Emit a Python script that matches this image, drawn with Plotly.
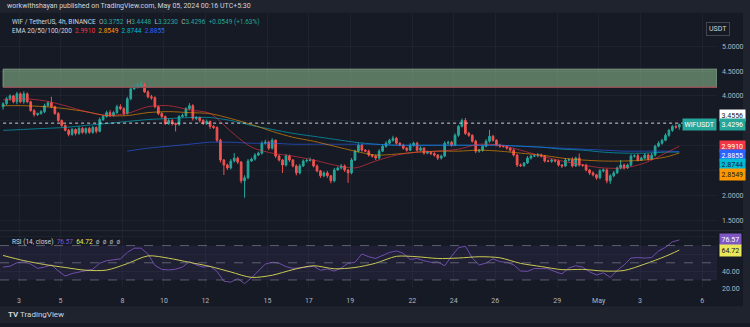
import plotly.graph_objects as go
import pandas as pd

# ---------------- data ----------------
dates = pd.date_range(end="2024-05-04 21:30", periods=197, freq="4h")

closes = [
    3.845, 3.944, 4.003, 3.884, 4.043, 3.884, 4.043, 3.884, 3.706, 3.627,
    3.646, 3.686, 3.805, 3.864, 3.785, 3.646, 3.508, 3.409, 3.310, 3.230,
    3.329, 3.250, 3.349, 3.270, 3.349, 3.270, 3.369, 3.290, 3.527, 3.587,
    3.666, 3.607, 3.666, 3.785, 3.746, 3.646, 3.944, 4.142, 4.182, 4.201,
    4.221, 4.082, 3.983, 3.964, 3.785, 3.646, 3.587, 3.448, 3.508, 3.448,
    3.428, 3.587, 3.607, 3.746, 3.805, 3.547, 3.567, 3.508, 3.448, 3.488,
    3.389, 3.369, 3.111, 2.715, 2.615, 2.556, 2.695, 2.754, 2.675, 2.298,
    2.358, 2.695, 2.734, 2.814, 2.853, 3.052, 3.072, 2.953, 3.111, 2.794,
    2.715, 2.615, 2.794, 2.715, 2.596, 2.457, 2.596, 2.695, 2.705, 2.715,
    2.596, 2.497, 2.398, 2.457, 2.398, 2.298, 2.516, 2.556, 2.596, 2.516,
    2.457, 2.715, 2.893, 3.012, 2.913, 2.893, 2.814, 2.794, 2.754, 2.893,
    2.992, 3.052, 3.111, 3.151, 3.052, 3.012, 2.953, 2.913, 3.012, 3.052,
    2.913, 2.953, 2.853, 2.873, 2.843, 2.814, 2.754, 2.794, 3.052, 3.070,
    3.012, 3.211, 3.389, 3.508, 3.250, 3.211, 3.092, 2.893, 2.913, 2.992,
    3.092, 3.191, 3.111, 3.012, 2.992, 2.985, 2.953, 2.913, 2.814, 2.615,
    2.605, 2.655, 2.754, 2.794, 2.800, 2.814, 2.794, 2.695, 2.690, 2.715,
    2.695, 2.615, 2.596, 2.715, 2.720, 2.596, 2.754, 2.615, 2.610, 2.516,
    2.457, 2.417, 2.358, 2.497, 2.516, 2.298, 2.398, 2.457, 2.556, 2.615,
    2.556, 2.615, 2.794, 2.800, 2.715, 2.754, 2.814, 2.734, 2.814, 2.992,
    3.052, 3.111, 3.211, 3.310, 3.389, 3.3747, 3.4296,
]
first_open = 3.785
last_open = 3.3752

upper_wick = [
    0.03, 0.04, 0.03, 0.02, 0.04, 0.03, 0.05, 0.03, 0.02, 0.03,
    0.02, 0.03, 0.04, 0.03, 0.12, 0.02, 0.03, 0.02, 0.02, 0.03,
    0.03, 0.02, 0.04, 0.03, 0.02, 0.03, 0.03, 0.02, 0.04, 0.03,
    0.04, 0.05, 0.03, 0.04, 0.05, 0.03, 0.04, 0.03, 0.04, 0.05,
    0.08, 0.04, 0.03, 0.04, 0.03, 0.02, 0.03, 0.02, 0.04, 0.03,
    0.02, 0.03, 0.04, 0.03, 0.05, 0.03, 0.03, 0.02, 0.03, 0.04,
    0.02, 0.03, 0.02, 0.03, 0.02, 0.03, 0.04, 0.10, 0.03, 0.02,
    0.05, 0.04, 0.03, 0.04, 0.03, 0.04, 0.05, 0.03, 0.04, 0.02,
    0.03, 0.02, 0.04, 0.03, 0.02, 0.03, 0.04, 0.03, 0.04, 0.05,
    0.02, 0.03, 0.02, 0.03, 0.04, 0.02, 0.04, 0.03, 0.04, 0.03,
    0.02, 0.04, 0.03, 0.04, 0.03, 0.02, 0.03, 0.02, 0.03, 0.04,
    0.03, 0.04, 0.03, 0.05, 0.03, 0.02, 0.03, 0.02, 0.04, 0.03,
    0.03, 0.04, 0.02, 0.03, 0.02, 0.03, 0.02, 0.03, 0.04, 0.03,
    0.03, 0.04, 0.03, 0.04, 0.05, 0.03, 0.02, 0.03, 0.02, 0.03,
    0.04, 0.13, 0.03, 0.02, 0.03, 0.02, 0.03, 0.02, 0.03, 0.02,
    0.03, 0.02, 0.04, 0.03, 0.03, 0.04, 0.03, 0.02, 0.03, 0.03,
    0.02, 0.03, 0.02, 0.04, 0.03, 0.05, 0.03, 0.09, 0.02, 0.03,
    0.02, 0.03, 0.02, 0.04, 0.03, 0.03, 0.03, 0.04, 0.03, 0.10,
    0.03, 0.03, 0.04, 0.03, 0.04, 0.03, 0.04, 0.03, 0.04, 0.03,
    0.04, 0.03, 0.04, 0.03, 0.03, 0.04, 0.0152,
]
lower_wick = [
    0.06, 0.03, 0.04, 0.03, 0.05, 0.03, 0.04, 0.03, 0.02, 0.04,
    0.03, 0.02, 0.03, 0.02, 0.03, 0.02, 0.03, 0.03, 0.02, 0.04,
    0.03, 0.04, 0.03, 0.03, 0.04, 0.03, 0.03, 0.04, 0.02, 0.03,
    0.02, 0.03, 0.02, 0.03, 0.03, 0.04, 0.02, 0.03, 0.02, 0.03,
    0.03, 0.02, 0.03, 0.04, 0.03, 0.03, 0.04, 0.03, 0.03, 0.04,
    0.14, 0.03, 0.02, 0.03, 0.03, 0.04, 0.03, 0.04, 0.03, 0.03,
    0.05, 0.03, 0.04, 0.05, 0.20, 0.04, 0.03, 0.03, 0.04, 0.05,
    0.34, 0.03, 0.02, 0.03, 0.02, 0.03, 0.03, 0.04, 0.03, 0.04,
    0.03, 0.16, 0.03, 0.04, 0.03, 0.05, 0.03, 0.02, 0.03, 0.02,
    0.03, 0.03, 0.04, 0.03, 0.04, 0.05, 0.03, 0.02, 0.03, 0.04,
    0.20, 0.03, 0.02, 0.03, 0.03, 0.02, 0.03, 0.03, 0.04, 0.03,
    0.02, 0.03, 0.02, 0.03, 0.03, 0.02, 0.03, 0.03, 0.02, 0.03,
    0.03, 0.02, 0.03, 0.02, 0.03, 0.03, 0.04, 0.03, 0.02, 0.03,
    0.03, 0.02, 0.03, 0.02, 0.03, 0.03, 0.03, 0.04, 0.03, 0.03,
    0.02, 0.03, 0.03, 0.02, 0.03, 0.02, 0.03, 0.03, 0.03, 0.04,
    0.03, 0.03, 0.02, 0.03, 0.02, 0.03, 0.03, 0.03, 0.02, 0.03,
    0.03, 0.03, 0.04, 0.02, 0.03, 0.03, 0.02, 0.03, 0.03, 0.03,
    0.04, 0.03, 0.04, 0.03, 0.03, 0.05, 0.06, 0.03, 0.02, 0.03,
    0.03, 0.02, 0.03, 0.03, 0.03, 0.02, 0.03, 0.03, 0.02, 0.03,
    0.02, 0.03, 0.02, 0.03, 0.03, 0.03, 0.0522,
]

# EMA values read once per day (every 6th candle) plus the last candle
ema20 = [3.924, 3.944, 3.904, 3.805, 3.686, 3.607, 3.650, 3.785, 3.805, 3.720,
         3.650, 3.290, 2.973, 2.853, 2.794, 2.715, 2.615, 2.556, 2.695, 2.814,
         2.873, 2.893, 2.933, 3.032, 3.012, 2.913, 2.794, 2.695, 2.615, 2.556,
         2.556, 2.655, 2.853, 2.9910]
ema50 = [3.805, 3.805, 3.785, 3.746, 3.686, 3.607, 3.607, 3.666, 3.686, 3.666,
         3.646, 3.547, 3.428, 3.290, 3.171, 3.092, 2.992, 2.893, 2.814, 2.834,
         2.873, 2.893, 2.893, 2.913, 2.893, 2.853, 2.814, 2.754, 2.715, 2.695,
         2.695, 2.715, 2.774, 2.8549]
ema100 = [3.310, 3.329, 3.349, 3.369, 3.409, 3.448, 3.488, 3.527, 3.547, 3.567,
          3.567, 3.508, 3.409, 3.329, 3.250, 3.191, 3.131, 3.072, 3.032, 3.012,
          3.012, 3.012, 3.012, 3.012, 3.012, 2.992, 2.973, 2.933, 2.913, 2.873,
          2.853, 2.853, 2.873, 2.8744]
ema200 = [None, None, None, None, None, None, 2.893, 2.953, 2.992, 3.032,
          3.072, 3.072, 3.052, 3.052, 3.032, 3.032, 3.032, 3.032, 3.032, 3.012,
          3.012, 3.012, 3.012, 3.012, 3.012, 2.992, 2.973, 2.953, 2.933, 2.913,
          2.893, 2.893, 2.893, 2.8855]

# RSI(14) read every 2nd candle
rsi = [45, 46, 50, 51, 48.5, 43.5, 45, 47.5, 40.5, 34.6,
       37.5, 39, 40.5, 42.5, 49.5, 52.3, 53.5, 54.5, 62, 67,
       67, 60, 47, 42.3, 41.7, 42.5, 45, 51.5, 47.5, 45,
       46, 40, 28.5, 27.5, 31.5, 25.8, 32.5, 40.4, 48.5, 50.5,
       49.5, 45.5, 43.5, 44.2, 45.4, 46, 41.3, 42.8, 40.3, 44,
       49.3, 50.5, 60.3, 57, 55, 58.3, 62, 63.8, 61, 53.9,
       55, 52.3, 50.6, 51, 46.5, 57.7, 67.5, 69.3, 55.5, 47.5,
       49.6, 54.6, 51.3, 50.5, 47.6, 40.5, 40, 43.3, 43, 43,
       39.7, 37, 44, 46.5, 45, 39.4, 35.8, 38.3, 33, 41,
       47.5, 55.5, 56, 55.5, 56, 63.8, 68, 74.3, 76.57]
# RSI-based MA read once per day plus the last candle
rsi_ma = [58.5, 52.5, 48, 44.5, 41.3, 41.5, 49, 58, 55.3, 50.5,
          45.7, 39.3, 33, 35.5, 42, 46.5, 43, 44.5, 49.5, 57.5,
          57, 55, 55.5, 57, 55.8, 49.3, 45.6, 42, 42.3, 40.4,
          41, 48.5, 57.5, 64.72]

zone_low, zone_high = 4.176, 4.538
h_line = 3.4556

price_ticks = [1.5, 2.0, 2.5, 3.0, 3.5, 4.0, 4.5, 5.0]
price_tick_text = ["1.5000", "2.0000", "", "", "", "4.0000", "4.5000", "5.0000"]
rsi_ticks = [20, 40, 60, 80]
rsi_tick_text = ["20.00", "40.00", "", ""]
date_ticks = ["2024-04-03", "2024-04-05", "2024-04-08", "2024-04-10", "2024-04-12",
              "2024-04-15", "2024-04-17", "2024-04-19", "2024-04-22", "2024-04-24",
              "2024-04-26", "2024-04-29", "2024-05-01", "2024-05-03", "2024-05-06"]
date_labels = ["3", "5", "8", "10", "12", "15", "17", "19", "22", "24", "26", "29",
               "May", "3", "6"]

# ---------------- derived ----------------
opens = [first_open] + closes[:-2] + [last_open]
highs = [max(o, c) + u for o, c, u in zip(opens, closes, upper_wick)]
lows = [min(o, c) - w for o, c, w in zip(opens, closes, lower_wick)]
rsi_dates = list(dates[::2])
daily_dates = list(dates[::6]) + [dates[-1]]

BG = "#161a25"
PANEL = "#1f232e"
TXT = "#b2b5be"
UP, DOWN = "#26a69a", "#ef5350"
C20, C50, C100, C200 = "#f23645", "#ff9800", "#00bcd4", "#2962ff"
RSI_C, MA_C = "#7e57c2", "#e8e85a"
FONT = "Roboto"
W, H = 750, 327
XDOM = 717 / W

def py(px):  # paper y from pixel row
    return 1 - px / H

fig = go.Figure()

fig.add_trace(go.Candlestick(
    x=dates, open=opens, high=highs, low=lows, close=closes,
    increasing=dict(line=dict(color=UP, width=1), fillcolor=UP),
    decreasing=dict(line=dict(color=DOWN, width=1), fillcolor=DOWN),
    whiskerwidth=0, xaxis="x", yaxis="y", showlegend=False, hoverinfo="skip"))

for vals, col in [(ema100, C100), (ema200, C200), (ema50, C50), (ema20, C20)]:
    fig.add_trace(go.Scatter(x=daily_dates, y=vals, mode="lines", opacity=0.6,
                             line=dict(color=col, width=1, shape="spline", smoothing=0.8),
                             xaxis="x", yaxis="y", showlegend=False, hoverinfo="skip"))

fig.add_trace(go.Scatter(x=rsi_dates, y=rsi, mode="lines", opacity=0.85,
                         line=dict(color=RSI_C, width=1),
                         xaxis="x", yaxis="y2", showlegend=False, hoverinfo="skip"))
fig.add_trace(go.Scatter(x=daily_dates, y=rsi_ma, mode="lines", opacity=0.85,
                         line=dict(color=MA_C, width=1, shape="spline", smoothing=0.8),
                         xaxis="x", yaxis="y2", showlegend=False, hoverinfo="skip"))

x_start = pd.Timestamp("2024-04-02 01:54")
x_end = pd.Timestamp("2024-05-06 17:15")

shapes = []
# header strip, bottom bar, right frame
shapes.append(dict(type="rect", xref="paper", yref="paper", x0=0, x1=1, y0=py(13), y1=1,
                   fillcolor=PANEL, line_width=0, layer="below"))
shapes.append(dict(type="rect", xref="paper", yref="paper", x0=0, x1=1, y0=0, y1=py(310),
                   fillcolor=PANEL, line_width=0, layer="below"))
shapes.append(dict(type="rect", xref="paper", yref="paper", x0=743 / W, x1=1, y0=0, y1=1,
                   fillcolor=PANEL, line_width=0, layer="below"))
# pane separator
shapes.append(dict(type="line", xref="paper", yref="paper", x0=0, x1=743 / W,
                   y0=py(233.5), y1=py(233.5), line=dict(color="#2a2e39", width=1)))
# supply zone
shapes.append(dict(type="rect", xref="x", yref="y", x0=dates[0], x1=x_end,
                   y0=zone_low, y1=zone_high, fillcolor="#5a7762",
                   line=dict(color="#7d9a82", width=1), layer="below"))
shapes.append(dict(type="line", xref="x", yref="y", x0=dates[0], x1=x_end,
                   y0=zone_low, y1=zone_low, line=dict(color="#a2394a", width=1)))
# horizontal dotted line
shapes.append(dict(type="line", xref="x", yref="y", x0=dates[0], x1=x_end,
                   y0=h_line, y1=h_line, line=dict(color="#d1d4dc", width=1, dash="dot")))
# RSI band and levels
shapes.append(dict(type="rect", xref="x", yref="y2", x0=x_start, x1=x_end, y0=30, y1=70,
                   fillcolor="rgba(126,87,194,0.10)", line_width=0, layer="below"))
for lvl in (70, 50, 30):
    shapes.append(dict(type="line", xref="x", yref="y2", x0=x_start, x1=x_end, y0=lvl, y1=lvl,
                       line=dict(color="rgba(120,123,134,0.7)", width=1, dash="dash")))

ann = []
def label(text, y, yref, bg, fg, yshift=0, xanchor="left", x=XDOM + 0.002):
    ann.append(dict(text=text, x=x, xref="paper", y=y, yref=yref, xanchor=xanchor,
                    yanchor="middle", showarrow=False, bgcolor=bg, yshift=yshift,
                    font=dict(family=FONT, size=7, color=fg), borderpad=1.5))

label(f"{h_line:.4f}", h_line, "y", "#ffffff", "#131722", yshift=8)
label(f"{closes[-1]:.4f}", closes[-1], "y", UP, "#ffffff")
label("WIFUSDT", closes[-1], "y", UP, "#ffffff", xanchor="right", x=XDOM)
label(f"{ema20[-1]:.4f}", ema20[-1], "y", C20, "#ffffff")
label(f"{ema200[-1]:.4f}", ema200[-1], "y", C200, "#ffffff", yshift=-4)
label(f"{ema100[-1]:.4f}", ema100[-1], "y", C100, "#131722", yshift=-12.5)
label(f"{ema50[-1]:.4f}", ema50[-1], "y", C50, "#131722", yshift=-21)
label(f"{rsi[-1]:.2f}", rsi[-1], "y2", RSI_C, "#ffffff")
label(f"{rsi_ma[-1]:.2f}", rsi_ma[-1], "y2", MA_C, "#131722")

ann.append(dict(text="USDT", x=729.5 / W, xref="paper", y=py(22.5), yref="paper",
                showarrow=False, font=dict(family=FONT, size=7, color="#d1d4dc"),
                bgcolor=BG, bordercolor="#434651", borderwidth=1, borderpad=2))

def hdr(text, xpx, ypx, size=7):
    ann.append(dict(text=text, x=xpx / W, xref="paper", y=py(ypx), yref="paper",
                    xanchor="left", yanchor="middle", showarrow=False,
                    font=dict(family=FONT, size=size, color="#d1d4dc")))

hdr("workwithshayan published on TradingView.com, May 05, 2024 00:16 UTC+5:30", 5, 6.5)
chg = closes[-1] - closes[-2]
g = f'<span style="color:{UP}">'
gr = f'<span style="color:{TXT}">'
hdr(f"WIF / TetherUS, 4h, BINANCE  {gr}O</span>{g}{opens[-1]:.4f}</span>  "
    f"{gr}H</span>{g}{highs[-1]:.4f}</span>  {gr}L</span>{g}{lows[-1]:.4f}</span>  "
    f"{gr}C</span>{g}{closes[-1]:.4f}  {chg:+.4f} ({chg / closes[-2] * 100:+.2f}%)</span>",
    10, 22, 6.5)
hdr(f"EMA 20/50/100/200  <span style='color:{C20}'>{ema20[-1]:.4f}</span>  "
    f"<span style='color:{C50}'>{ema50[-1]:.4f}</span>  "
    f"<span style='color:{C100}'>{ema100[-1]:.4f}</span>  "
    f"<span style='color:{C200}'>{ema200[-1]:.4f}</span>", 10, 31, 6.5)
hdr(f"RSI (14, close)  <span style='color:{RSI_C}'>{rsi[-1]:.2f}</span>  "
    f"<span style='color:{MA_C}'>{rsi_ma[-1]:.2f}</span>  "
    f"<span style='color:{TXT}'>ø  ø  ø  ø</span>", 10, 245, 6.5)
hdr("<b>TV</b> TradingView", 6, 318.5, 8)

grid = "rgba(255,255,255,0.035)"
fig.update_layout(
    width=W, height=H, margin=dict(l=0, r=0, t=0, b=0),
    paper_bgcolor=BG, plot_bgcolor=BG, showlegend=False,
    font=dict(family=FONT, size=7, color=TXT),
    xaxis=dict(domain=[0, XDOM], anchor="y2", type="date", range=[x_start, x_end],
               tickvals=date_ticks, ticktext=date_labels, tickfont=dict(size=7, color=TXT),
               showgrid=True, gridcolor=grid, zeroline=False, showline=False, ticks="",
               ticklabelstandoff=6, rangeslider=dict(visible=False)),
    yaxis=dict(domain=[py(233), py(13)], anchor="x", side="right", range=[1.308, 5.668],
               tickvals=price_ticks, ticktext=price_tick_text,
               tickfont=dict(size=7, color=TXT), showgrid=True, gridcolor=grid,
               zeroline=False, showline=False, ticks="", ticklabelstandoff=4),
    yaxis2=dict(domain=[py(293), py(234)], anchor="x", side="right", range=[19, 86.8],
                tickvals=rsi_ticks, ticktext=rsi_tick_text,
                tickfont=dict(size=7, color=TXT), showgrid=True, gridcolor=grid,
                zeroline=False, showline=False, ticks="", ticklabelstandoff=4),
    shapes=shapes, annotations=ann,
)

fig.write_html("out.html")
